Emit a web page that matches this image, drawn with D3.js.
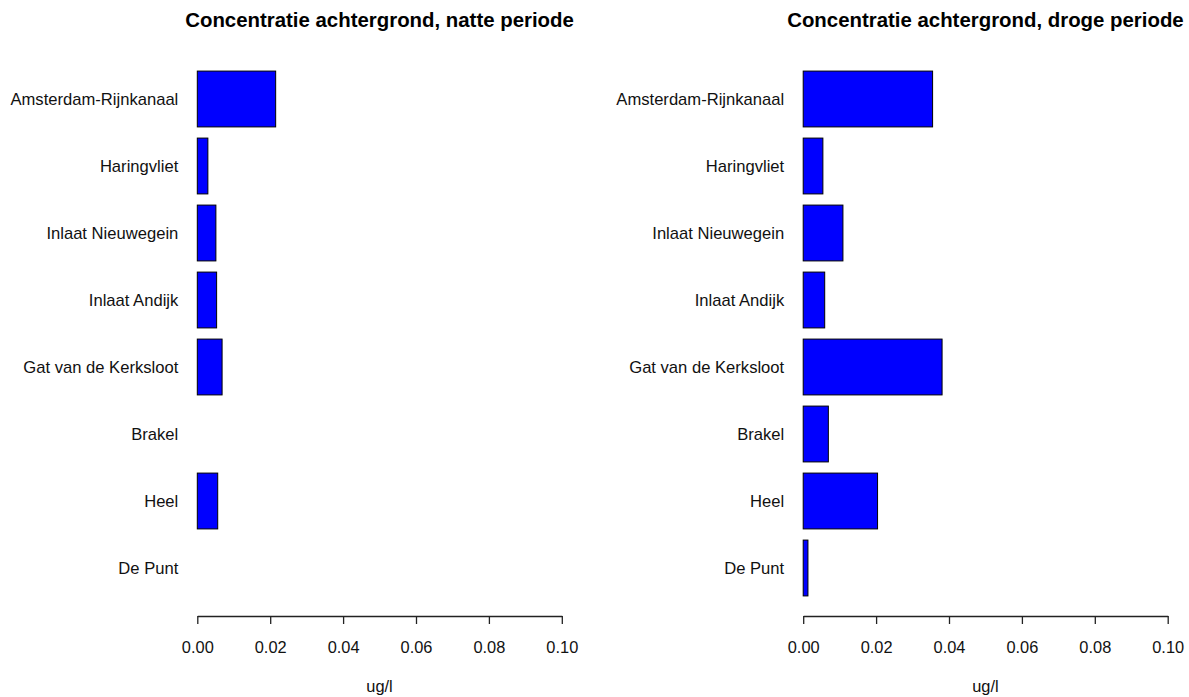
<!DOCTYPE html>
<html>
<head>
<meta charset="utf-8">
<script src="https://cdn.jsdelivr.net/npm/d3@7"></script>
<style>
  body { margin: 0; background: #fff; }
  text { font-family: "Liberation Sans", Arial, sans-serif; }
</style>
</head>
<body>
<div class="chart"></div>
<script>
const w = 1189;
const h = 697;

// locations, top to bottom
const locations = ["Amsterdam-Rijnkanaal", "Haringvliet", "Inlaat Nieuwegein", "Inlaat Andijk",
                   "Gat van de Kerksloot", "Brakel", "Heel", "De Punt"];
// ug/l
const natte = [0.0215, 0.0029, 0.0051, 0.0053, 0.0068, 0, 0.0056, 0];
const droge = [0.0355, 0.0054, 0.0109, 0.0059, 0.0381, 0.0069, 0.0204, 0.0013];
const xTicks = [0, 0.02, 0.04, 0.06, 0.08, 0.10];
const titles = ["Concentratie achtergrond, natte periode", "Concentratie achtergrond, droge periode"];
const unit = "ug/l";

var svg = d3.select(".chart").append("svg")
    .attr("width", w)
    .attr("height", h);

var yScale = d3.scaleBand()
    .domain(locations)
    .range([65.5, 601.5])
    .paddingInner(1 / 6)
    .paddingOuter(1 / 12);

function drawPanel(left, data, title) {
  var xScale = d3.scaleLinear().domain([0, 0.1]).range([left, left + 364.5]);
  var g = svg.append("g");
  var rows = locations.map((loc, i) => ({loc: loc, v: data[i]})).filter(d => d.v > 0);

  g.selectAll(".bar")
    .data(rows)
    .enter().append("rect")
    .attr("class", "bar")
    .attr("x", xScale(0))
    .attr("y", d => yScale(d.loc))
    .attr("width", d => xScale(d.v) - xScale(0))
    .attr("height", yScale.bandwidth())
    .attr("fill", "#0000ff")
    .attr("stroke", "#000")
    .attr("stroke-width", 1);

  // category labels
  g.selectAll(".lab")
    .data(locations)
    .enter().append("text")
    .attr("x", xScale(0) - 19)
    .attr("y", d => yScale(d) + yScale.bandwidth() / 2)
    .attr("dy", "0.35em")
    .attr("text-anchor", "end")
    .attr("font-size", 16.6)
    .attr("fill", "#111")
    .text(d => d);

  var xAxis = d3.axisBottom(xScale)
      .tickValues(xTicks)
      .tickFormat(d3.format(".2f"))
      .tickSize(8)
      .tickSizeOuter(0)
      .tickPadding(17);
  var ax = g.append("g")
      .attr("transform", "translate(0,616)")
      .call(xAxis);
  ax.selectAll("text").attr("font-size", 16.4).attr("fill", "#111")
      .style("font-family", "'Liberation Sans', Arial, sans-serif");
  ax.selectAll("line, path").attr("stroke", "#222").attr("stroke-width", 1.3);

  g.append("text")
    .attr("x", (xScale.range()[0] + xScale.range()[1]) / 2)
    .attr("y", 692)
    .attr("text-anchor", "middle")
    .attr("font-size", 16.4)
    .attr("fill", "#111")
    .text(unit);

  g.append("text")
    .attr("x", (xScale.range()[0] + xScale.range()[1]) / 2)
    .attr("y", 27)
    .attr("text-anchor", "middle")
    .attr("font-size", 20.4)
    .attr("font-weight", "bold")
    .attr("fill", "#000")
    .text(title);
}

drawPanel(197.3, natte, titles[0]);
drawPanel(803.2, droge, titles[1]);
</script>
</body>
</html>
